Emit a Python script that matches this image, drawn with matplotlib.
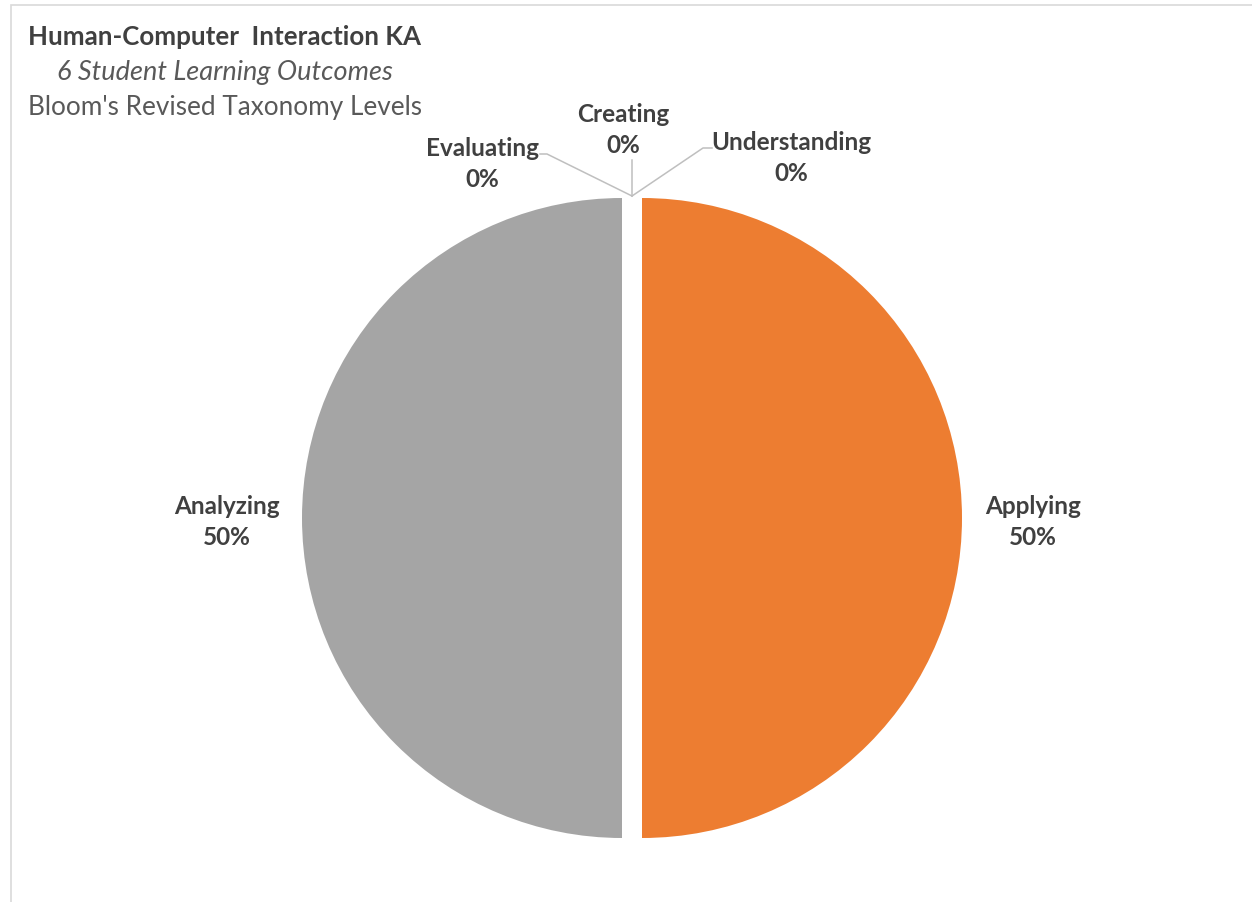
import matplotlib.pyplot as plt
from matplotlib.patches import Rectangle

# Bloom's levels in the order they go round the pie (clockwise from 12 o'clock)
levels = ['Understanding', 'Applying', 'Analyzing', 'Evaluating', 'Creating']
shares = [0, 50, 50, 0, 0]
colors = ['#5B9BD5', '#ED7D31', '#A5A5A5', '#FFC000', '#4472C4']

title = 'Human-Computer  Interaction KA'
subtitle = '6 Student Learning Outcomes'
subtitle2 = "Bloom's Revised Taxonomy Levels"

W, H = 1252, 903
plt.rcParams['font.family'] = ['Lato', 'DejaVu Sans']

fig = plt.figure(figsize=(W / 100, H / 100), dpi=100)
ax = fig.add_axes([0, 0, 1, 1])

cx, cy, r = 632, H - 519, 320
# explode is in data units here, since the axes are in pixels
explode = [10 if v > 0 else 0 for v in shares]
wedges, _ = ax.pie(shares, colors=colors, startangle=90, counterclock=False,
                   explode=explode, center=(cx, cy), radius=r, frame=True,
                   wedgeprops=dict(linewidth=0))

ax.set_xlim(0, W)
ax.set_ylim(0, H)
ax.set_aspect('equal')
ax.axis('off')

# chart border (top and left edges visible)
ax.add_patch(Rectangle((10.5, -20), W + 40, H - 5.5 + 20, fill=False,
                       edgecolor='#D9D9D9', linewidth=1.2))

lab_kw = dict(ha='center', va='center', fontsize=17.5, fontweight='bold',
              color='#404040', linespacing=1.37)


def label(i):
    return f'{levels[i]}\n{shares[i] / sum(shares) * 100:.0f}%'


# big slices: labels outside at mid-height
ax.text(1033, H - 522, label(1), **lab_kw)
ax.text(227, H - 522, label(2), **lab_kw)

# zero slices: labels with leader lines from the top of the pie
tip = (cx, H - 197)
line_kw = dict(color='#BFBFBF', linewidth=1.1)
ax.text(791, H - 158, label(0), **lab_kw)
ax.plot([tip[0], 703, 712], [tip[1], H - 149, H - 149], **line_kw)
ax.text(482, H - 164, label(3), **lab_kw)
ax.plot([tip[0], 547, 540], [tip[1], H - 155, H - 155], **line_kw)
ax.text(623, H - 130, label(4), **lab_kw)
ax.plot([tip[0], tip[0]], [tip[1], H - 161], **line_kw)

ax.text(224.5, H - 37, title, ha='center', va='center', fontsize=18.6,
        fontweight='bold', color='#404040')
ax.text(224.5, H - 72, subtitle, ha='center', va='center', fontsize=19.5,
        fontstyle='italic', color='#595959')
ax.text(224.5, H - 107, subtitle2, ha='center', va='center', fontsize=18.8,
        color='#595959')

fig.savefig('out.png', dpi=100)
